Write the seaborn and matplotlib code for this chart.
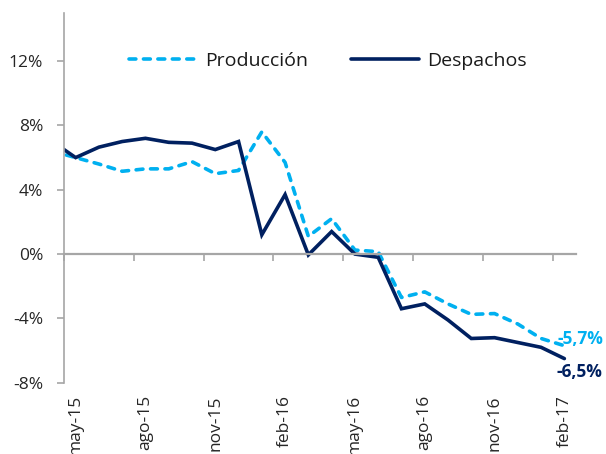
import matplotlib
matplotlib.use("Agg")
import matplotlib.pyplot as plt
import seaborn as sns
import pandas as pd
import numpy as np

# ---- data (values in %) ----
months = ["abr-15", "may-15", "jun-15", "jul-15", "ago-15", "sep-15", "oct-15", "nov-15",
          "dic-15", "ene-16", "feb-16", "mar-16", "abr-16", "may-16", "jun-16", "jul-16",
          "ago-16", "sep-16", "oct-16", "nov-16", "dic-16", "ene-17", "feb-17"]
produccion = [6.4, 6.0, 5.6, 5.15, 5.3, 5.3, 5.75, 5.0, 5.2, 7.6, 5.7, 1.1, 2.2, 0.25, 0.15,
              -2.7, -2.35, -3.1, -3.75, -3.7, -4.35, -5.25, -5.7]
despachos = [7.0, 6.0, 6.65, 7.0, 7.2, 6.95, 6.9, 6.5, 7.0, 1.2, 3.7, -0.05, 1.4, 0.0, -0.2,
             -3.4, -3.1, -4.1, -5.25, -5.2, -5.5, -5.8, -6.5]
tick_labels = ["may-15", "ago-15", "nov-15", "feb-16", "may-16", "ago-16", "nov-16", "feb-17"]
end_labels = ["-5,7%", "-6,5%"]
yticks = [-8, -4, 0, 4, 8, 12]

c_prod = "#00B0F0"
c_desp = "#002060"
gray = "#A6A6A6"

sns.set_theme(style="white")
plt.rcParams["font.family"] = ["Open Sans", "DejaVu Sans"]

# position index: first month (abr-15) sits one step left of the visible range
x = np.arange(len(months)) - 1
df = pd.DataFrame({"x": x, "Producción": produccion, "Despachos": despachos})

fig = plt.figure(figsize=(6.06, 4.54), dpi=100)
ax = fig.add_axes([64 / 606, 1 - 382.7 / 454, (576 - 64) / 606, (382.7 - 12.9) / 454])

sns.lineplot(data=df, x="x", y="Producción", ax=ax, color=c_prod, linewidth=2.6,
             label="Producción", linestyle="--")
sns.lineplot(data=df, x="x", y="Despachos", ax=ax, color=c_desp, linewidth=2.6,
             label="Despachos")

lp, ld = ax.lines[0], ax.lines[1]
lp.set_dashes((1.9, 2.1))
lp.set_dash_capstyle("round")
lp.set_solid_joinstyle("round")
lp.set_dash_joinstyle("round")
ld.set_solid_joinstyle("miter")

ax.set_xlim(-0.5, len(months) - 1.5)
ax.set_ylim(-8, 15)

# y axis
ax.set_yticks(yticks)
ax.set_yticklabels([f"{v}%" for v in yticks])
ax.tick_params(axis="y", left=True, length=5, width=1.2, color=gray, pad=10,
               labelsize=12.5, labelcolor="#262626")

# x axis line at zero with tick marks at category boundaries
ax.spines["bottom"].set_position(("data", 0))
ax.spines["bottom"].set_color(gray)
ax.spines["bottom"].set_linewidth(1.6)
ax.spines["left"].set_color(gray)
ax.spines["left"].set_linewidth(1.2)
ax.spines["top"].set_visible(False)
ax.spines["right"].set_visible(False)
bounds = np.arange(-0.5, len(months) - 1.5, 3)
ax.set_xticks(bounds)
ax.tick_params(axis="x", bottom=True, length=5, width=1.2, color=gray, labelbottom=False)
ax.set_xlabel("")
ax.set_ylabel("")

# category labels at bottom
sec = ax.secondary_xaxis("bottom")
sec.set_xticks(np.arange(0, len(months) - 1, 3))
sec.set_xticklabels(tick_labels)
sec.tick_params(length=0, pad=9, labelsize=12.5, labelrotation=90, labelcolor="#262626")
sec.spines["bottom"].set_visible(False)

# end labels
ax.annotate(end_labels[0], xy=(x[-1], produccion[-1]), xytext=(-5.3, 5),
            textcoords="offset points", ha="left", va="center", color=c_prod,
            fontsize=12.5, fontweight="bold")
ax.annotate(end_labels[1], xy=(x[-1], despachos[-1]), xytext=(-5.8, -9.5),
            textcoords="offset points", ha="left", va="center", color=c_desp,
            fontsize=12.5, fontweight="bold")

leg = ax.legend(ncol=2, frameon=False, fontsize=14, loc="center",
                bbox_to_anchor=(328 / 606, 1 - 61 / 454), bbox_transform=fig.transFigure,
                handlelength=3.5, handletextpad=0.4, columnspacing=2.2)
for t in leg.get_texts():
    t.set_color("#1a1a1a")

fig.savefig("out.png", dpi=100)
